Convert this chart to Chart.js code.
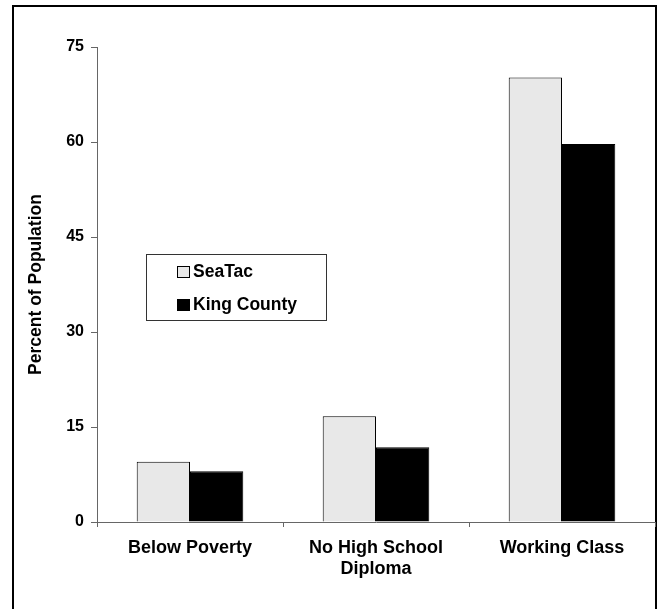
<!DOCTYPE html>
<html>
<head>
<meta charset="utf-8">
<script src="https://cdn.jsdelivr.net/npm/chart.js@4/dist/chart.umd.min.js"></script>
<style>
html,body{margin:0;padding:0;background:#fff;}
#wrap{width:659px;height:609px;position:relative;}
</style>
</head>
<body>
<div id="wrap"><canvas id="c" width="659" height="609"></canvas></div>
<script>
const categories = ['Below Poverty', ['No High School', 'Diploma'], 'Working Class'];
const seriesNames = ['SeaTac', 'King County'];
const seaTacValues = [9.5, 16.7, 70.2];
const kingCountyValues = [8.0, 11.8, 59.7];
const yTicks = [0, 15, 30, 45, 60, 75];
const yTitle = 'Percent of Population';

const FONT = "'Liberation Sans', Arial, Helvetica, sans-serif";

const framePlugin = {
  id: 'frame',
  beforeDraw(chart) {
    const ctx = chart.ctx;
    ctx.save();
    ctx.fillStyle = '#fff';
    ctx.fillRect(0, 0, chart.width, chart.height);
    ctx.strokeStyle = '#000';
    ctx.lineWidth = 2;
    ctx.strokeRect(13, 6, 643, 700);
    ctx.restore();
  }
};

const legendBoxPlugin = {
  id: 'legendBox',
  afterDraw(chart) {
    const ctx = chart.ctx;
    const ca = chart.chartArea;
    const x0 = ca.left + 49, y0 = ca.top + 207;
    ctx.save();
    ctx.strokeStyle = '#333';
    ctx.lineWidth = 1;
    ctx.strokeRect(x0 + 0.5, y0 + 0.5, 180, 66);
    ctx.font = 'bold 17.5px ' + FONT;
    ctx.textBaseline = 'middle';
    ctx.textAlign = 'left';
    chart.data.datasets.forEach((ds, i) => {
      const cy = y0 + 18 + i * 33;
      ctx.fillStyle = ds.backgroundColor;
      ctx.fillRect(x0 + 31, cy - 6, 13, 12);
      ctx.strokeStyle = '#000';
      ctx.strokeRect(x0 + 31.5, cy - 5.5, 12, 11);
      ctx.fillStyle = '#000';
      ctx.fillText(ds.label, x0 + 47, cy);
    });
    ctx.restore();
  }
};

new Chart(document.getElementById('c'), {
  type: 'bar',
  data: {
    labels: categories,
    datasets: [
      { label: seriesNames[0], data: seaTacValues, backgroundColor: '#e8e8e8', borderColor: '#000', borderWidth: 1 },
      { label: seriesNames[1], data: kingCountyValues, backgroundColor: '#000', borderColor: '#000', borderWidth: 1 }
    ]
  },
  options: {
    responsive: false,
    animation: false,
    devicePixelRatio: 1,
    layout: { padding: { top: 47, right: 4, bottom: 0, left: 0 }, autoPadding: false },
    plugins: { legend: { display: false }, tooltip: { enabled: false } },
    datasets: { bar: { categoryPercentage: 0.573, barPercentage: 1.0 } },
    scales: {
      x: {
        offset: true,
        grid: { offset: true, drawOnChartArea: false, color: '#666', tickLength: 5, tickWidth: 1 },
        border: { color: '#666', width: 1 },
        ticks: { color: '#000', font: { family: FONT, size: 18, weight: 'bold', lineHeight: 1.15 }, padding: 11, maxRotation: 0, autoSkip: false },
        afterFit(scale) { scale.height = 87; }
      },
      y: {
        min: 0, max: 75,
        afterBuildTicks(scale) { scale.ticks = yTicks.map(v => ({ value: v })); },
        grid: { drawOnChartArea: false, color: '#666', tickLength: 6 },
        border: { color: '#666', width: 1 },
        ticks: { color: '#000', font: { family: FONT, size: 16, weight: 'bold' }, padding: 7 },
        title: { display: true, text: yTitle, color: '#000', font: { family: FONT, size: 17.5, weight: 'bold' }, padding: { top: 26, bottom: 0 } },
        afterFit(scale) { scale.width = 97; }
      }
    }
  },
  plugins: [framePlugin, legendBoxPlugin]
});
</script>
</body>
</html>
